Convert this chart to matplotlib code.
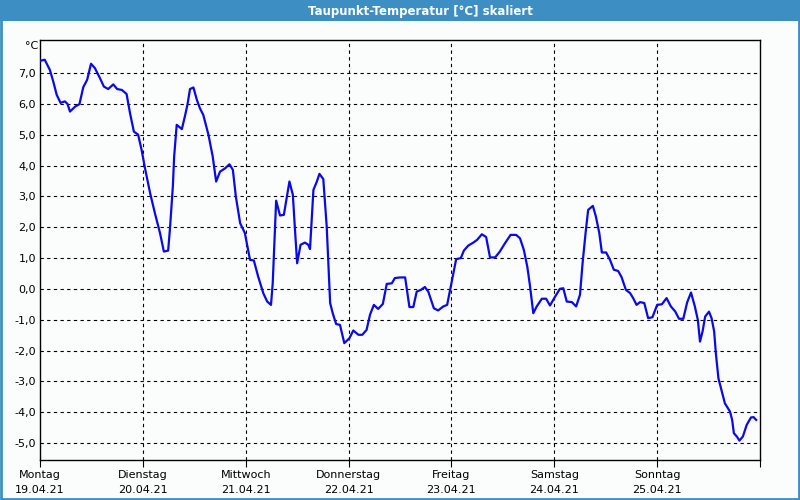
#!/usr/bin/env python
# Taupunkt-Temperatur, one week, hourly-ish samples

import numpy as np
import matplotlib.pyplot as plt
from matplotlib.patches import Rectangle
from matplotlib.ticker import FuncFormatter

# hours since Monday 19.04.21 00:00
hours = [0.2, 1.1, 2.3, 3.1, 3.9, 4.8, 5.8, 6.4, 7.0, 8.2, 9.2, 10.1, 11.0, 11.9,
         12.8, 14.0, 14.9, 15.9, 17.1, 18.0, 19.1, 20.2, 21.0, 21.9, 22.9, 23.7,
         24.5, 25.7, 26.8, 28.0, 28.9, 29.9, 30.3, 31.0, 31.3, 31.9, 33.1, 33.8,
         34.4, 35.0, 35.8, 36.6, 37.3, 38.1, 39.3, 40.3, 41.1, 42.0, 43.2, 44.2,
         45.0, 45.7, 46.7, 47.8, 49.0, 49.9, 50.9, 52.1, 53.0, 53.9, 54.3, 55.1,
         56.0, 56.9, 57.6, 58.2, 59.0, 59.5, 60.0, 60.8, 61.8, 62.6, 63.0, 63.8,
         64.6, 65.2, 66.1, 66.9, 67.7, 68.3, 69.1, 70.0, 71.0, 72.2, 73.1, 74.3,
         75.2, 76.2, 77.0, 77.9, 78.9, 80.0, 80.9, 82.1, 82.8, 84.0, 85.2, 86.2,
         87.1, 87.9, 88.9, 89.8, 90.6, 91.9, 92.9, 94.1, 95.0, 95.7, 96.4, 97.1,
         98.2, 98.9, 99.9, 101.1, 102.0, 103.1, 104.1, 105.0, 106.2, 107.3, 108.5,
         109.8, 111.1, 112.0, 112.9, 113.7, 114.3, 115.1, 115.9, 117.1, 118.1,
         119.0, 120.2, 121.3, 122.1, 122.9, 124.1, 125.1, 126.0, 126.6, 127.3,
         127.9, 129.0, 129.7, 130.5, 131.1, 132.1, 133.0, 133.9, 134.9, 135.7,
         136.7, 137.7, 138.4, 139.2, 140.0, 141.0, 141.9, 142.9, 144.0, 145.1,
         146.2, 147.2, 148.2, 149.1, 150.1, 151.0, 151.9, 152.8, 153.5, 154.0,
         154.6, 155.2, 156.1, 156.7, 157.3, 157.7, 158.3, 159.1, 159.8, 161.0,
         161.5, 161.9, 162.6, 163.2, 164.0, 164.9, 165.9, 166.5, 167.1]

taupunkt = [7.40, 7.43, 7.10, 6.72, 6.29, 6.03, 6.08, 6.00, 5.75, 5.91, 5.99, 6.54,
            6.78, 7.30, 7.16, 6.83, 6.56, 6.48, 6.63, 6.48, 6.45, 6.32, 5.70, 5.10,
            5.00, 4.51, 3.91, 3.10, 2.46, 1.81, 1.21, 1.24, 1.91, 3.32, 4.29, 5.32,
            5.18, 5.59, 5.97, 6.48, 6.53, 6.13, 5.86, 5.64, 5.00, 4.29, 3.48, 3.80,
            3.91, 4.04, 3.86, 2.99, 2.13, 1.81, 0.94, 0.92, 0.40, -0.14, -0.41, -0.52,
            0.18, 2.86, 2.38, 2.40, 2.99, 3.48, 3.05, 1.91, 0.83, 1.43, 1.50, 1.43,
            1.29, 3.21, 3.48, 3.73, 3.56, 2.02, -0.46, -0.79, -1.14, -1.17, -1.76,
            -1.60, -1.35, -1.49, -1.49, -1.33, -0.84, -0.52, -0.65, -0.49, 0.16, 0.18,
            0.35, 0.37, 0.37, -0.59, -0.59, -0.09, -0.03, 0.06, -0.09, -0.63, -0.70,
            -0.57, -0.52, -0.03, 0.45, 0.96, 1.00, 1.24, 1.40, 1.50, 1.59, 1.77, 1.68,
            1.02, 1.02, 1.21, 1.48, 1.75, 1.75, 1.64, 1.26, 0.72, 0.13, -0.79, -0.57,
            -0.32, -0.32, -0.54, -0.25, 0.00, 0.02, -0.41, -0.43, -0.57, -0.19, 0.83,
            1.81, 2.56, 2.69, 2.35, 1.81, 1.18, 1.18, 0.94, 0.62, 0.58, 0.38, -0.03,
            -0.14, -0.30, -0.52, -0.43, -0.46, -0.95, -0.92, -0.52, -0.50, -0.30,
            -0.57, -0.73, -0.97, -0.97, -0.44, -0.12, -0.57, -1.01, -1.71, -1.38,
            -0.90, -0.74, -0.95, -1.38, -2.09, -2.90, -3.33, -3.71, -3.98, -4.25,
            -4.68, -4.79, -4.92, -4.79, -4.41, -4.17, -4.16, -4.25]

days = ['Montag', 'Dienstag', 'Mittwoch', 'Donnerstag', 'Freitag', 'Samstag', 'Sonntag']
dates = ['19.04.21', '20.04.21', '21.04.21', '22.04.21', '23.04.21', '24.04.21', '25.04.21']
yticks = [-5, -4, -3, -2, -1, 0, 1, 2, 3, 4, 5, 6, 7]

frame_blue = '#3d8fc3'
bg = '#fbfdfc'

plt.rcParams['font.family'] = ['DejaVu Sans']

fig = plt.figure(figsize=(8, 5), dpi=100, facecolor=bg)

# window title bar + border
fig.patches.append(Rectangle((0, 1 - 21 / 500), 1, 21 / 500, transform=fig.transFigure,
                             facecolor=frame_blue, edgecolor='none', zorder=0))
fig.patches.append(Rectangle((0.001, 0.002), 0.998, 0.996, transform=fig.transFigure,
                             facecolor='none', edgecolor=frame_blue, linewidth=2, zorder=1))
fig.text(0.525, 1 - 11 / 500, 'Taupunkt-Temperatur [°C] skaliert', color='white',
         fontsize=8.5, fontweight='bold', ha='center', va='center')

ax = fig.add_axes([40 / 800, 40 / 500, 720 / 800, 420 / 500])
ax.set_facecolor(bg)

ax.plot(hours, taupunkt, color='#0a0ae6', linewidth=1.6, zorder=3)

ax.set_xlim(0, 168)
ax.set_ylim(-5.55, 8.07)

ax.set_xticks(np.arange(0, 169, 24))
ax.set_xticklabels([d + '\n' + t for d, t in zip(days, dates)] + [''],
                   fontsize=8, linespacing=1.7)
ax.tick_params(axis='x', length=5, width=0.8, direction='out', pad=2, color='black')

ax.set_yticks(yticks)
ax.yaxis.set_major_formatter(FuncFormatter(lambda v, p: ('%.1f' % v).replace('.', ',')))
ax.tick_params(axis='y', length=0, pad=3, labelsize=8)

for v in yticks:
    ax.axhline(v, color='black', linestyle=(0, (3, 3)), linewidth=0.8, zorder=1)
for h in range(24, 168, 24):
    ax.axvline(h, color='black', linestyle=(0, (3, 3)), linewidth=0.8, zorder=1)

for s in ax.spines.values():
    s.set_linewidth(1)
    s.set_color('black')

ax.text(-0.003, 1.0 - 6 / 420, '°C', transform=ax.transAxes, fontsize=8,
        ha='right', va='center')

fig.savefig('out.png', dpi=100, facecolor=bg)
